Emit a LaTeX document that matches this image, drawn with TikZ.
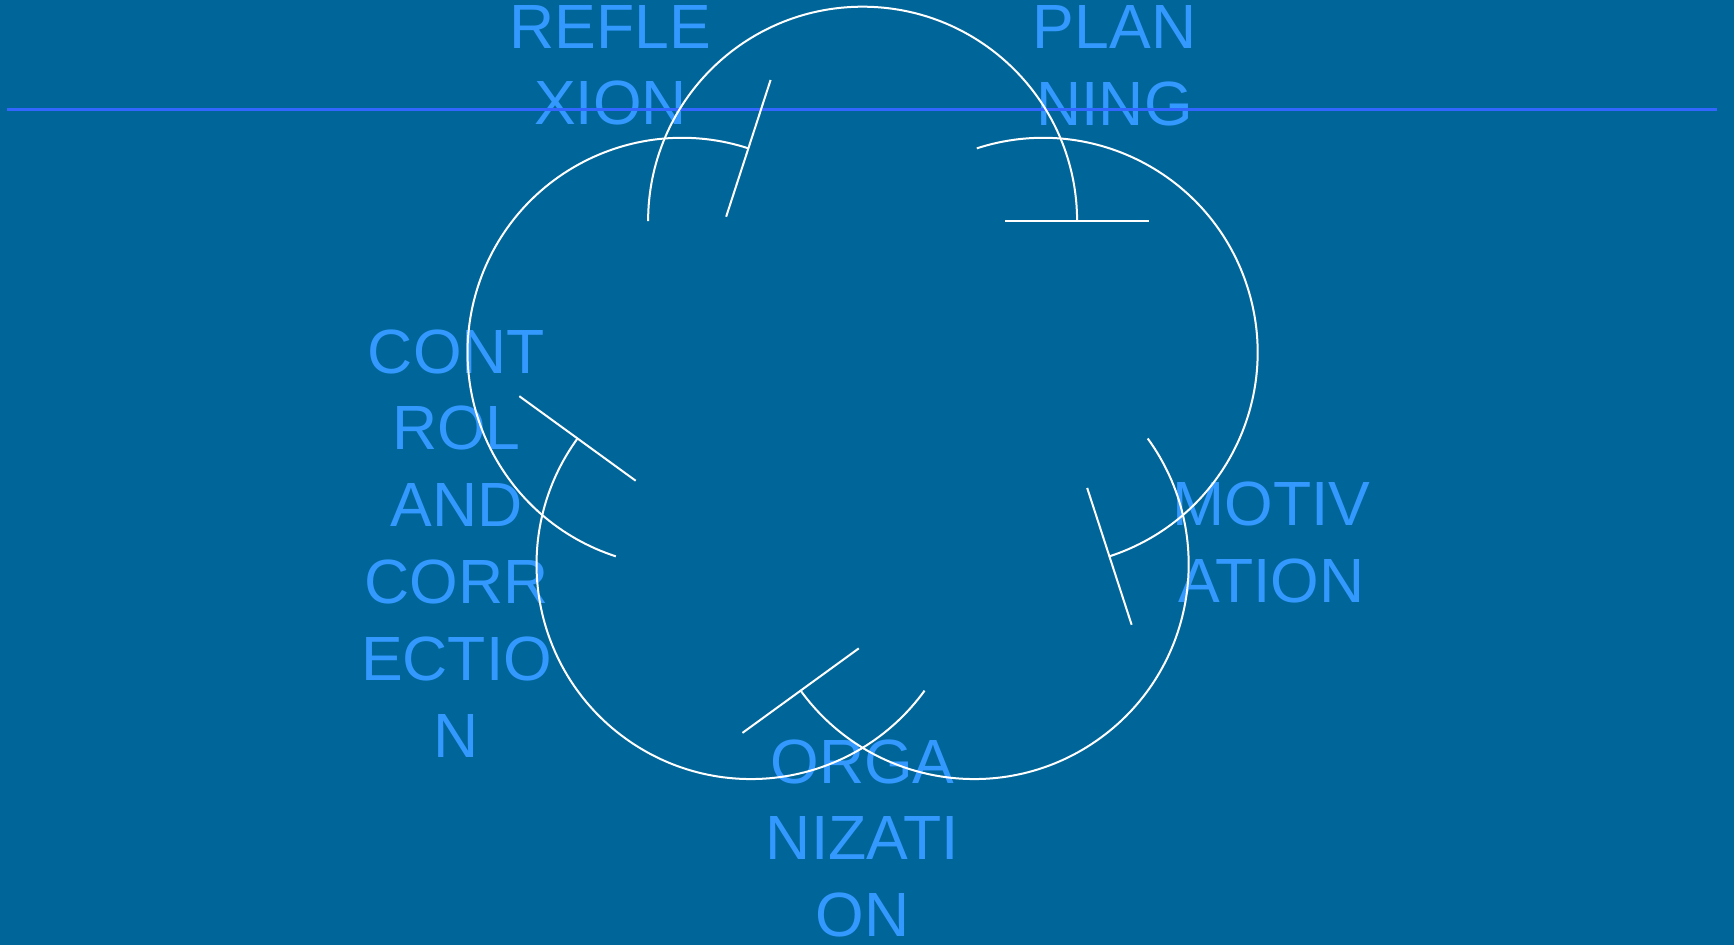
\documentclass[tikz,border=0pt]{standalone}
\usepackage{fontspec}
\setmainfont{Liberation Sans}
\definecolor{bg}{HTML}{006699}
\definecolor{lbl}{HTML}{3399FF}
\definecolor{rulecol}{HTML}{3366FF}
\begin{document}
\begin{tikzpicture}[x=1pt,y=1pt,
  lab/.style={text=lbl, font=\fontsize{62.5}{76.8}\selectfont, align=center, anchor=north, inner sep=0pt},
  cyc/.style={draw=white, line width=2pt},
  rulestyle/.style={draw=rulecol, line width=3pt}]
\fill[bg] (0,0) rectangle (1734,945);
\useasboundingbox (0,0) rectangle (1734,945);
\node[lab] (refl) at (610.5,940) {REFLE\\XION};
\node[lab] (plan) at (1114.5,939.5) {PLAN\\NING};
\node[lab] (motiv) at (1271.5,463.3) {MOTIV\\ATION};
\node[lab] (orga) at (862.6,205.7) {ORGA\\NIZATI\\ON};
\node[lab] (ctrl) at (456.5,615.7) {CONT\\ROL\\AND\\CORR\\ECTIO\\N};
\coordinate (ruleL) at (7,835);
\coordinate (ruleR) at (1717,835);
\draw[rulestyle] (ruleL) -- (ruleR);
\coordinate (C) at (862.6,534);
\foreach \a [count=\i] in {90,18,-54,-126,162} {
  \path (C) ++(\a:189.8) coordinate (c\i);
  \draw[cyc] (c\i) ++(\a+90:214.5) arc[start angle=\a+90, end angle=\a-90, radius=214.5];
  \draw[cyc] (c\i) ++(\a-90:142.6) -- ++(\a-90:143.8);
}
\end{tikzpicture}
\end{document}
